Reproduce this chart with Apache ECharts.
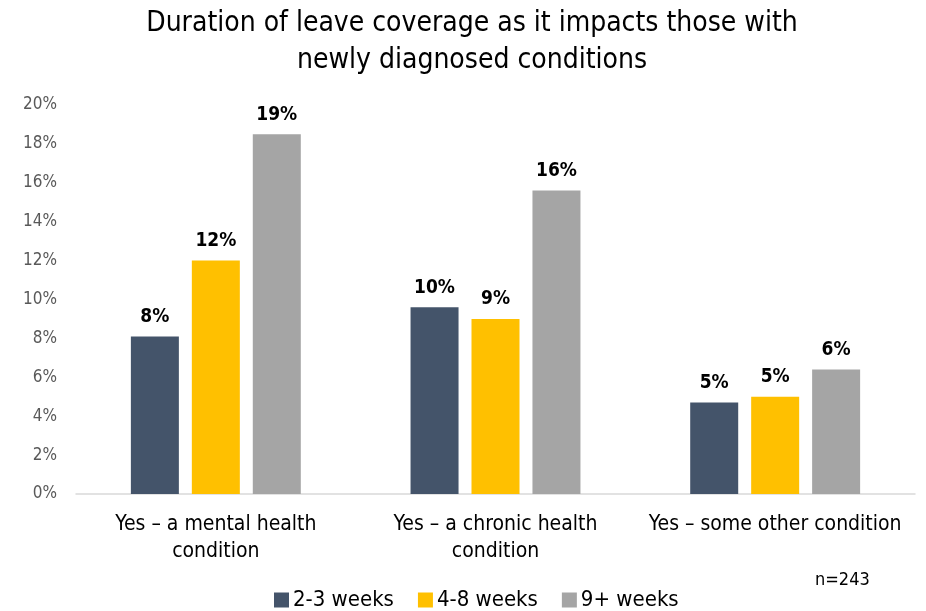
<!DOCTYPE html>
<html>
<head>
<meta charset="utf-8">
<script src="https://cdn.jsdelivr.net/npm/echarts@6/dist/echarts.min.js"></script>
<style>
  html, body { margin: 0; padding: 0; background: #fff; }
  #chart { width: 926px; height: 611px; }
</style>
</head>
<body>
<div id="chart"></div>
<script>
// Survey results: share of respondents per leave duration, by condition type
const categories = [
  'Yes \u2013 a mental health\ncondition',
  'Yes \u2013 a chronic health\ncondition',
  'Yes \u2013 some other condition'
];
const seriesNames = ['2-3 weeks', '4-8 weeks', '9+ weeks'];
const weeks2to3 = [8.1, 9.6, 4.7];
const weeks4to8 = [12.0, 9.0, 5.0];
const weeks9plus = [18.5, 15.6, 6.4];
const yTicks = [0, 2, 4, 6, 8, 10, 12, 14, 16, 18, 20];

const colors = ['#44546a', '#ffc000', '#a5a5a5'];
const FONT = '"Liberation Sans Narrow", "DejaVu Sans Condensed", sans-serif';

const chart = echarts.init(document.getElementById('chart'));

function barSeries(name, data, color) {
  return {
    name: name,
    type: 'bar',
    data: data,
    barWidth: 48,
    barGap: '27%',
    itemStyle: { color: color },
    label: {
      show: true,
      position: 'top',
      distance: 10,
      fontFamily: FONT,
      fontWeight: 'bold',
      fontSize: 19,
      color: '#000',
      formatter: p => Math.round(p.value) + '%'
    }
  };
}

chart.setOption({
  animation: false,
  color: colors,
  title: {
    text: 'Duration of leave coverage as it impacts those with\nnewly diagnosed conditions',
    left: 467,
    textAlign: 'center',
    top: 0,
    textStyle: {
      fontFamily: FONT,
      fontWeight: 'normal',
      fontSize: 28,
      lineHeight: 37,
      color: '#000'
    }
  },
  grid: { left: 76, right: 11, top: 105, bottom: 117 },
  xAxis: {
    type: 'category',
    data: categories,
    axisLine: { lineStyle: { color: '#d9d9d9', width: 1.5 } },
    axisTick: { show: false },
    axisLabel: {
      fontFamily: FONT,
      fontSize: 21,
      lineHeight: 27,
      color: '#000',
      margin: 17,
      interval: 0
    }
  },
  yAxis: {
    type: 'value',
    min: yTicks[0],
    max: yTicks[yTicks.length - 1],
    interval: 2,
    splitLine: { show: false },
    axisLine: { show: false },
    axisTick: { show: false },
    axisLabel: {
      fontFamily: FONT,
      fontSize: 17,
      color: '#595959',
      margin: 19,
      formatter: v => v + '%'
    }
  },
  legend: {
    bottom: 0,
    left: 274,
    padding: 0,
    itemWidth: 15,
    itemHeight: 15,
    itemGap: 24,
    icon: 'rect',
    textStyle: { fontFamily: FONT, fontSize: 22, color: '#000', padding: [0, 0, 0, -1] },
    data: seriesNames
  },
  graphic: [{
    type: 'text',
    left: 815,
    top: 571,
    style: { text: 'n=243', fontFamily: FONT, fontSize: 18, fill: '#000' }
  }],
  series: [
    barSeries(seriesNames[0], weeks2to3, colors[0]),
    barSeries(seriesNames[1], weeks4to8, colors[1]),
    barSeries(seriesNames[2], weeks9plus, colors[2])
  ]
});
</script>
</body>
</html>
